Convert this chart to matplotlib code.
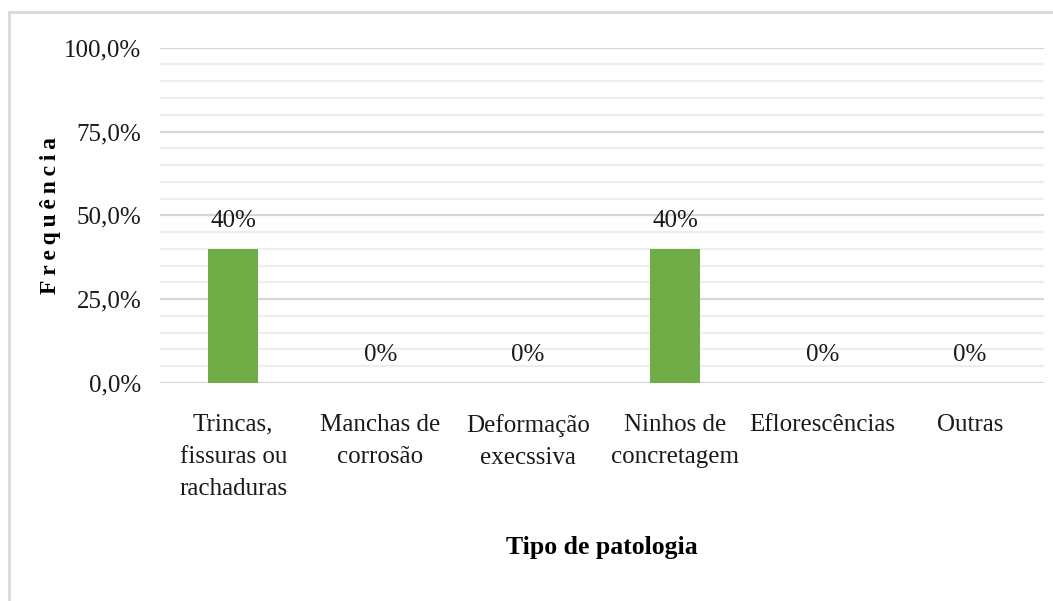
import matplotlib
matplotlib.use("Agg")
import matplotlib.pyplot as plt
from matplotlib.lines import Line2D
from matplotlib.ticker import FuncFormatter, MultipleLocator

categories = ["Trincas,\nfissuras ou\nrachaduras", "Manchas de\ncorrosão",
              "Deformação\nexecssiva", "Ninhos de\nconcretagem",
              "Eflorescências", "Outras"]
values = [40, 0, 0, 40, 0, 0]
value_labels = ["40%", "0%", "0%", "40%", "0%", "0%"]
y_ticks = [0, 25, 50, 75, 100]

plt.rcParams['font.family'] = ['Liberation Serif', 'DejaVu Serif']

fig = plt.figure(figsize=(10.53, 6.01), dpi=100)
ax = fig.add_axes([0.1515, 0.3627, 0.8395, 0.5579])

x = list(range(len(categories)))
ax.bar(x, values, width=0.34, color="#70AD47", zorder=3)
ax.set_xlim(-0.5, len(categories) - 0.5)
ax.set_ylim(0, 100)

ax.set_yticks(y_ticks)
ax.yaxis.set_major_formatter(FuncFormatter(lambda v, p: f"{v:.1f}%".replace(".", ",")))
ax.yaxis.set_minor_locator(MultipleLocator(5))
ax.grid(axis='y', which='major', color="#D6D6D6", lw=1.6, zorder=0)
ax.grid(axis='y', which='minor', color="#EEEEEE", lw=1.6, zorder=0)
ax.set_xticks(x)
ax.set_xticklabels(categories, linespacing=1.6)
ax.tick_params(axis='both', which='both', length=0, labelsize=18, colors="#1A1A1A")
ax.tick_params(axis='y', pad=13)
ax.tick_params(axis='x', pad=22)
for s in ax.spines.values():
    s.set_visible(False)

for xi, v, lab in zip(x, values, value_labels):
    ax.annotate(lab, (xi, v), xytext=(0, 12), textcoords='offset points',
                ha='center', va='bottom', fontsize=18, color="#1A1A1A")

ax.set_xlabel("Tipo de patologia", fontsize=18.5, fontweight='bold')
ax.xaxis.set_label_coords(0.5, -0.492)
ax.xaxis.label.set_va('center')
ax.set_ylabel("F\u2009r\u2009e\u2009q\u2009u\u2009ê\u2009n\u2009c\u2009i\u2009a", fontsize=17,
              fontweight='bold')
ax.yaxis.set_label_coords(-0.123, 0.5)
ax.yaxis.label.set_va('center')

W, H = 1053, 601
fig.add_artist(Line2D([9 / W, 9 / W], [0, 1 - 12 / H], transform=fig.transFigure,
                      color="#D9D9D9", lw=2))
fig.add_artist(Line2D([9 / W, 1], [1 - 12 / H, 1 - 12 / H], transform=fig.transFigure,
                      color="#D9D9D9", lw=2))

fig.savefig("out.png", dpi=100, facecolor="white")
